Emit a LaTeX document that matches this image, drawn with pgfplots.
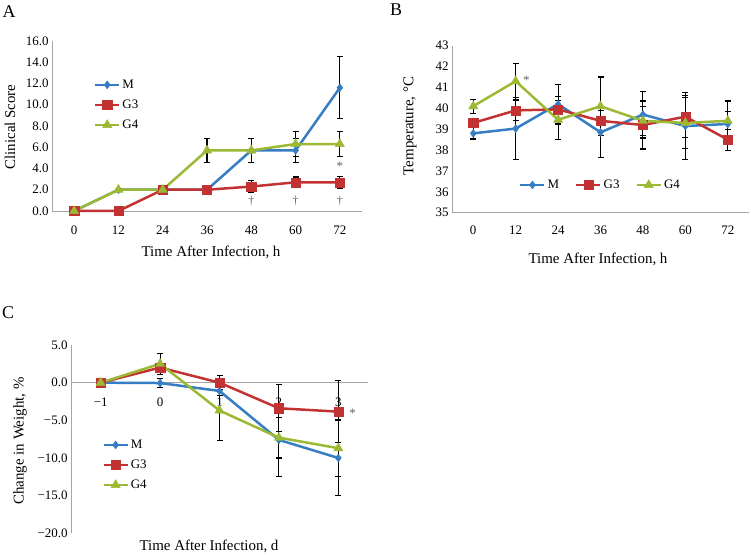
\documentclass[border=0pt]{standalone}
\usepackage{fontspec}
\setmainfont{Liberation Serif}
\usepackage{pgfplots}
\pgfplotsset{compat=1.18}
\definecolor{cM}{RGB}{55,125,195}
\definecolor{cG3}{RGB}{195,50,50}
\definecolor{cG4}{RGB}{155,185,50}
\definecolor{axgray}{RGB}{165,165,165}
\definecolor{stargray}{RGB}{100,100,100}

\pgfplotsset{
  myaxis/.style={
    scale only axis,
    anchor=south west,
    font=\fontsize{13}{15}\selectfont,
    /pgf/number format/assume math mode=true,
    major tick length=0pt,
    tick style={draw=none},
    legend cell align=left,
    legend style={draw=none, fill=none, font=\fontsize{13}{15}\selectfont, row sep=6bp},
    legend image code/.code={\draw[mark repeat=2,mark phase=2] plot coordinates {(0bp,0bp) (12bp,0bp) (24bp,0bp)};},
    clip=false,
  },
  nolinearrows/.style={
    axis line style={-, axgray, line width=0.8bp},
    x axis line style={-}, y axis line style={-},
    every outer x axis line/.append style={-},
    every inner x axis line/.append style={-},
    every outer y axis line/.append style={-},
    every inner y axis line/.append style={-},
  },
  sM/.style={cM, line width=2.5bp, mark=diamond*, mark size=4bp, mark options={solid, line width=0.4bp}},
  sG3/.style={cG3, line width=2.5bp, mark=square*, mark size=4.6bp, mark options={solid, line width=0.4bp}},
  sG4/.style={cG4, line width=2.5bp, mark=triangle*, mark size=5.3bp, mark options={solid, line width=0.4bp}},
  eb/.style={draw=none, mark=none, forget plot,
    error bars/.cd, y dir=both, y explicit, error mark=|,
    error bar style={draw=black, line width=1.1bp, solid},
    error mark options={draw=black, line width=1.1bp, mark size=3bp, solid}},
}

\begin{document}
\begin{tikzpicture}[x=1bp,y=1bp]
\useasboundingbox (0,0) rectangle (751,555);

% ---------------- Panel A ----------------
\begin{axis}[myaxis, at={(52bp,344bp)}, width=310bp, height=170bp,
  xmin=-6, xmax=78, ymin=0, ymax=16,
  axis x line=bottom, axis y line=left, nolinearrows,
  xtick={0,12,24,36,48,60,72}, ytick={0,2,4,6,8,10,12,14,16},
  yticklabel style={/pgf/number format/.cd, fixed, fixed zerofill, precision=1},
  xticklabel style={yshift=-11bp},
  legend style={at={(0.125,0.624)}, anchor=west},
]
\addplot[eb] coordinates {
  (48,5.7) +- (0,1.15) (60,5.7) +- (0,1.15) (72,11.6) +- (0,2.9)
};
\addplot[eb] coordinates {
  (48,2.3) +- (0,0.6) (60,2.7) +- (0,0.5) (72,2.7) +- (0,0.55)
};
\addplot[eb] coordinates {
  (36,5.7) +- (0,1.15) (48,5.7) +- (0,1.15) (60,6.3) +- (0,1.2) (72,6.3) +- (0,1.15)
};
\addplot[sM] coordinates {(0,0) (12,2.0) (24,2.0) (36,2.0) (48,5.7) (60,5.7) (72,11.6)};
\addlegendentry{M}
\addplot[sG3] coordinates {(0,0) (12,0) (24,2.0) (36,2.0) (48,2.3) (60,2.7) (72,2.7)};
\addlegendentry{G3}
\addplot[sG4] coordinates {(0,0) (12,2.0) (24,2.0) (36,5.7) (48,5.7) (60,6.3) (72,6.3)};
\addlegendentry{G4}
\node[stargray, font=\fontsize{12}{14}\selectfont] at (axis cs:48,0.9) {†};
\node[stargray, font=\fontsize{12}{14}\selectfont] at (axis cs:60,0.9) {†};
\node[stargray, font=\fontsize{12}{14}\selectfont] at (axis cs:72,0.9) {†};
\node[stargray, font=\fontsize{13}{15}\selectfont] at (axis cs:72,4.2) {*};
\end{axis}

% ---------------- Panel B ----------------
\begin{axis}[myaxis, at={(452bp,342.3bp)}, width=297bp, height=167bp,
  xmin=-6, xmax=78, ymin=35, ymax=43,
  axis x line=bottom, axis y line=left, nolinearrows,
  xtick={0,12,24,36,48,60,72}, ytick={35,36,37,38,39,40,41,42,43},
  xticklabel style={yshift=-10bp},
  legend columns=3,
  legend style={at={(0.5,0.166)}, anchor=center, row sep=0bp, /tikz/every even column/.append style={column sep=14bp}},
]
\addplot[eb] coordinates {
  (0,38.8) +- (0,0.27) (12,39.03) +- (0,1.5) (24,40.2) +- (0,0.95) (36,38.85) +- (0,1.2)
  (48,39.7) +- (0,1.12) (60,39.15) +- (0,1.6) (72,39.25) +- (0,0.6)
};
\addplot[eb] coordinates {
  (0,39.3) +- (0,0.2) (12,39.9) +- (0,0.5) (24,39.95) +- (0,0.6) (36,39.4) +- (0,0.5)
  (48,39.2) +- (0,1.15) (60,39.6) +- (0,1.0) (72,38.5) +- (0,0.5)
};
\addplot[eb] coordinates {
  (0,40.1) +- (0,0.33) (12,41.3) +- (0,0.86) (24,39.45) +- (0,0.93) (36,40.1) +- (0,1.4)
  (48,39.4) +- (0,0.7) (60,39.3) +- (0,1.22) (72,39.4) +- (0,0.95)
};
\addplot[sM] coordinates {(0,38.8) (12,39.03) (24,40.2) (36,38.85) (48,39.7) (60,39.15) (72,39.25)};
\addlegendentry{M}
\addplot[sG3] coordinates {(0,39.3) (12,39.9) (24,39.95) (36,39.4) (48,39.2) (60,39.6) (72,38.5)};
\addlegendentry{G3}
\addplot[sG4] coordinates {(0,40.1) (12,41.3) (24,39.45) (36,40.1) (48,39.4) (60,39.3) (72,39.4)};
\addlegendentry{G4}
\node[stargray, font=\fontsize{13}{15}\selectfont] at (axis cs:15,41.35) {*};
\end{axis}

% ---------------- Panel C ----------------
\begin{axis}[myaxis, at={(71bp,21.7bp)}, width=297bp, height=188.3bp,
  xmin=-1.5, xmax=3.5, ymin=-20, ymax=5,
  axis x line=middle, axis y line=left, nolinearrows,
  hide obscured x ticks=false, hide obscured y ticks=false,
  xtick={-1,0,1,2,3}, xticklabels={−1,0,1,2,3},
  ytick={-20,-15,-10,-5,0,5}, yticklabels={−20.0,−15.0,−10.0,−5.0,0.0,5.0},
  xticklabel style={yshift=-12bp},
  legend style={at={(0.095,0.363)}, anchor=west},
]
\addplot[eb] coordinates {
  (0,0) +- (0,0.6) (1,-1.1) +- (0,0.6) (2,-7.6) +- (0,4.8) (3,-10.0) +- (0,5.0)
};
\addplot[eb] coordinates {
  (0,2.0) +- (0,0.5) (1,0) +- (0,0.9) (2,-3.4) +- (0,3.1) (3,-3.85) +- (0,4.15)
};
\addplot[eb] coordinates {
  (0,2.5) +- (0,1.4) (1,-3.7) +- (0,4.0) (2,-7.3) +- (0,2.7) (3,-8.7) +- (0,3.8)
};
\addplot[sM] coordinates {(-1,0) (0,-0.05) (1,-1.1) (2,-7.6) (3,-10.0)};
\addlegendentry{M}
\addplot[sG3] coordinates {(-1,0) (0,2.0) (1,0) (2,-3.4) (3,-3.85)};
\addlegendentry{G3}
\addplot[sG4] coordinates {(-1,0) (0,2.5) (1,-3.7) (2,-7.3) (3,-8.7)};
\addlegendentry{G4}
\node[stargray, font=\fontsize{13}{15}\selectfont] at (axis cs:3.24,-4.1) {*};
\end{axis}

% ---------------- Labels ----------------
\node[font=\fontsize{18}{20}\selectfont] at (9,543) {A};
\node[font=\fontsize{18}{20}\selectfont] at (396,545) {B};
\node[font=\fontsize{18}{20}\selectfont] at (8,242) {C};
\node[font=\fontsize{15}{17}\selectfont, rotate=90] at (10,428) {Clinical Score};
\node[font=\fontsize{15}{17}\selectfont, rotate=90] at (410,429) {Temperature, °C};
\node[font=\fontsize{15}{17}\selectfont, rotate=90] at (20,114) {Change in Weight, \%};
\node[font=\fontsize{15}{17}\selectfont] at (211,303) {Time After Infection, h};
\node[font=\fontsize{15}{17}\selectfont] at (598,296) {Time After Infection, h};
\node[font=\fontsize{15}{17}\selectfont] at (209,9) {Time After Infection, d};
\end{tikzpicture}
\end{document}
